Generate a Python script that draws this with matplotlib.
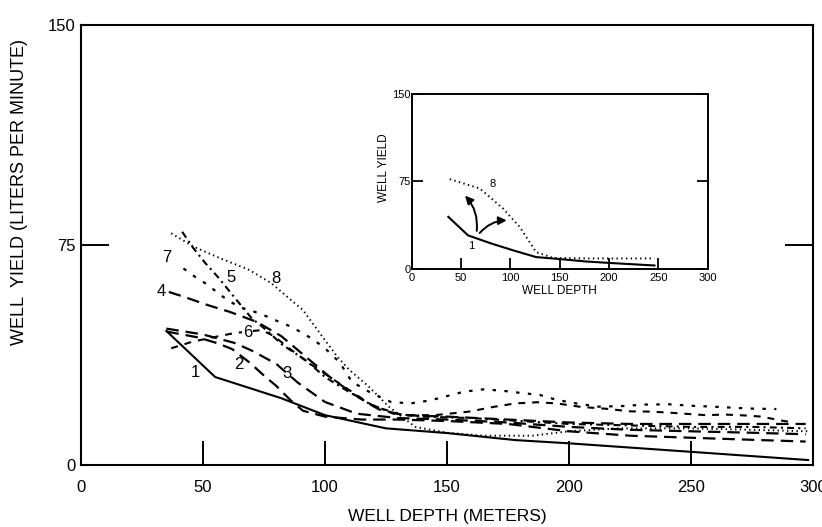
import matplotlib.pyplot as plt

plt.rcParams['font.family'] = ['Liberation Sans', 'DejaVu Sans']
plt.rcParams['lines.scale_dashes'] = False

# main chart: depth (m) and yield (L/min) for the eight curves
d1 = [35, 55, 82, 100, 125, 150, 178, 200, 250, 298]
y1 = [45.7, 30, 22.8, 17, 12.5, 10.9, 8.5, 7.4, 4.5, 1.7]

d2 = [35, 48, 56, 62, 69, 75, 80, 86, 91, 100, 115, 130, 150, 175, 200, 225, 250, 275, 297]
y2 = [45.5, 43.5, 41.5, 39.5, 35, 30.5, 27, 22, 18.5, 16.5, 15.5, 15.5, 15, 14, 11.5, 10, 9.3, 8.6, 8]

d3 = [35, 50, 63, 70, 80, 89, 100, 113, 130, 150, 175, 200, 225, 250, 275, 297]
y3 = [46.5, 44.5, 41.6, 39, 34.5, 28, 21.5, 17.5, 16, 15.5, 14.5, 13, 12, 11.5, 11, 10.5]

d4 = [36, 42, 52, 61, 72, 82, 92, 102, 112, 122, 132, 150, 175, 200, 225, 250, 275, 297]
y4 = [59, 57.4, 54.5, 52.2, 48.8, 44, 37, 30, 24, 19, 17, 16.5, 15.5, 14.5, 14, 14, 14, 14]

d5 = [41.5, 46, 51, 56, 61, 66, 70, 76, 82.5, 92, 100, 108.5, 118, 128, 140, 160, 180, 200, 225, 250, 275, 297]
y5 = [79.5, 74, 68.8, 64.2, 59.1, 54, 50, 46, 41, 35.8, 30, 25.6, 21, 17.5, 16.5, 16, 15, 14, 13.5, 13, 13, 12.5]

d6 = [37, 45.5, 54, 63, 74, 79, 85, 93, 102, 110, 120, 132, 145, 159, 169, 178, 187, 195, 205, 215,
      225, 234, 242, 249, 256, 264, 272, 279, 286, 292]
y6 = [39.8, 42, 43.5, 45, 46, 44, 40, 35, 30, 25.5, 20, 17, 17, 18.2, 19.8, 21, 21.4, 21, 19.8, 19.2,
      18.3, 18.2, 17.8, 17.4, 17, 17.2, 16.9, 16.5, 15.3, 14.5]

d7 = [42, 47, 52, 56, 60, 65, 70, 76, 81, 86, 91, 95.5, 100, 106, 111, 118, 127, 135, 143, 150,
      157, 165, 173, 180, 188, 195, 203, 212, 222, 231, 241, 250, 259, 268, 276, 285]
y7 = [67, 64, 61.4, 58.7, 56.3, 53.8, 52.6, 50.7, 48.9, 47.2, 44.9, 42.6, 39.8, 35, 28.4, 25, 21.5, 21, 22, 23.5,
      25, 25.8, 25.3, 24.6, 23.9, 22.2, 21, 19.9, 20.1, 20.6, 20.7, 20.2, 19.9, 19.5, 19.2, 19.1]

d8 = [37, 46, 57, 69, 78, 85, 91, 99, 105, 110, 118, 126, 137, 150, 165, 185, 200, 220, 250, 275, 298]
y8 = [79, 74.5, 70.5, 66.5, 62, 57, 52.8, 43.7, 37, 32.4, 26.7, 20, 13, 11, 10, 10, 11.5, 12.5, 12.5, 12, 11.5]

# inset: curve 1 and curve 8 only
in_d1 = [37, 57, 80, 103, 126, 150, 177, 204, 246]
in_y1 = [44.7, 28.8, 22, 15.9, 10.2, 8.5, 6.4, 5, 3]
in_d8 = [38.5, 69, 92.5, 109.4, 126, 143, 180, 220, 246]
in_y8 = [77, 69, 51.8, 36, 14.5, 9.5, 9, 9, 9]

fig = plt.figure(figsize=(8.22, 5.27), dpi=100)
ax = fig.add_axes([0.0985, 0.1176, 0.8905, 0.835])

ax.plot(d1, y1, color='k', lw=1.5, ls='-')
ax.plot(d2, y2, color='k', lw=1.6, ls=(0, (9, 5)))
ax.plot(d3, y3, color='k', lw=1.6, ls=(0, (9, 5)))
ax.plot(d4, y4, color='k', lw=1.6, ls=(0, (9, 5)))
ax.plot(d5, y5, color='k', lw=1.5, ls=(0, (5, 3, 1.5, 3)))
ax.plot(d6, y6, color='k', lw=1.5, ls=(0, (5, 5)))
ax.plot(d7, y7, color='k', lw=1.6, ls=(0, (2.5, 6)))
ax.plot(d8, y8, color='k', lw=1.4, ls=(0, (1, 2.4)))

lab = dict(fontsize=12, ha='center', va='center')
ax.text(47, 31.7, '1', **lab)
ax.text(64.8, 34.1, '2', **lab)
ax.text(84.6, 31.3, '3', **lab)
ax.text(32.7, 59.1, '4', **lab)
ax.text(61.3, 64, '5', **lab)
ax.text(68.2, 45.2, '6', bbox=dict(fc='white', ec='none', pad=0.5), **lab)
ax.text(35.2, 70.6, '7', **lab)
ax.text(79.8, 63.7, '8', **lab)

ax.set_xlim(0, 300)
ax.set_ylim(0, 150)
ax.set_xticks([0, 50, 100, 150, 200, 250, 300])
ax.set_yticks([0, 75, 150])
ax.tick_params(axis='x', direction='in', length=17, width=1.4, pad=11, labelsize=12)
ax.tick_params(axis='y', direction='in', length=20, width=1.4, pad=4, labelsize=12, right=True)
for s in ax.spines.values():
    s.set_linewidth(1.5)
ax.set_xlabel('WELL DEPTH (METERS)', fontsize=12.5)
ax.xaxis.set_label_coords(0.50, -0.1)
ax.set_ylabel('WELL  YIELD (LITERS PER MINUTE)', fontsize=13)
ax.yaxis.set_label_coords(-0.072, 0.62)

# inset
axi = fig.add_axes([0.501, 0.4896, 0.36, 0.332])
axi.plot(in_d1, in_y1, color='k', lw=1.5)
axi.plot(in_d8, in_y8, color='k', lw=1.4, ls=(0, (1, 2.4)))
axi.annotate('', xy=(52, 64.6), xytext=(65.5, 30.3),
             arrowprops=dict(arrowstyle='-|>', lw=1.4, color='k', mutation_scale=12,
                             connectionstyle='arc3,rad=0.25'))
axi.annotate('', xy=(99, 41.7), xytext=(67, 29),
             arrowprops=dict(arrowstyle='-|>', lw=1.4, color='k', mutation_scale=12,
                             connectionstyle='arc3,rad=-0.25'))
axi.text(82.4, 73, '8', fontsize=8, ha='center', va='center')
axi.text(60.5, 20, '1', fontsize=8, ha='center', va='center')
axi.set_xlim(0, 300)
axi.set_ylim(0, 150)
axi.set_xticks([0, 50, 100, 150, 200, 250, 300])
axi.set_yticks([0, 75, 150])
axi.tick_params(axis='x', direction='in', length=8, width=1.3, pad=3, labelsize=8)
axi.tick_params(axis='y', direction='in', length=8, width=1.3, pad=1, labelsize=8, right=True)
for s in axi.spines.values():
    s.set_linewidth(1.4)
axi.set_xlabel('WELL DEPTH', fontsize=8.5, labelpad=1)
axi.set_ylabel('WELL YIELD', fontsize=8.5, labelpad=2)
axi.yaxis.set_label_coords(-0.075, 0.58)

fig.savefig('out.png', dpi=100)
